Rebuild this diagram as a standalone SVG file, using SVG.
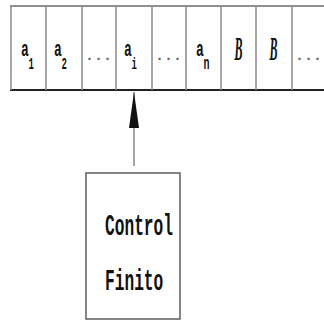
<svg xmlns="http://www.w3.org/2000/svg" width="324" height="320" viewBox="0 0 324 320">
<defs>
<style>
.cell{stroke:#8a8a8a;stroke-width:1.5}
.top{stroke:#6a6a6a;stroke-width:1.5}
.bot{stroke:#222;stroke-width:2.2}
.sym{font-family:"Liberation Mono",monospace;font-weight:bold;fill:#111}
.B{font-family:"Liberation Serif",serif;font-weight:bold;font-style:italic;fill:#111;font-size:12px}
.dots{font-family:"Liberation Mono",monospace;font-weight:bold;fill:#666;font-size:15px}
.lbl{font-family:"Liberation Mono",monospace;font-size:16.2px;font-weight:bold;fill:#111}
.box{fill:#fff;stroke:#666;stroke-width:1.6}
.conn{stroke:#888;stroke-width:1.5;fill:none}
</style>
<marker id="ah" viewBox="0 0 36 10" refX="36" refY="5" markerWidth="36" markerHeight="10" markerUnits="userSpaceOnUse" orient="auto">
<path d="M0,0 L36,5 L0,10 z" fill="#111"/>
</marker>
</defs>
<rect width="324" height="320" fill="#fff"/>
<g id="tape">
<line class="top" x1="10" y1="6" x2="324" y2="6"/>
<line class="bot" x1="10" y1="90" x2="324" y2="90"/>
<line class="cell" x1="11" y1="6" x2="11" y2="90"/>
<line class="cell" x1="46" y1="6" x2="46" y2="90"/>
<line class="cell" x1="82" y1="6" x2="82" y2="90"/>
<line class="cell" x1="116" y1="6" x2="116" y2="90"/>
<line class="cell" x1="152" y1="6" x2="152" y2="90"/>
<line class="cell" x1="186" y1="6" x2="186" y2="90"/>
<line class="cell" x1="221" y1="6" x2="221" y2="90"/>
<line class="cell" x1="256" y1="6" x2="256" y2="90"/>
<line class="cell" x1="292" y1="6" x2="292" y2="90"/>
<text class="sym" font-size="13" transform="translate(21,56) scale(1,1.75)">a</text>
<text class="sym" font-size="9" transform="translate(28.5,69) scale(1,1.8)">1</text>
<text class="sym" font-size="13" transform="translate(54,56) scale(1,1.75)">a</text>
<text class="sym" font-size="9" transform="translate(61.5,69) scale(1,1.8)">2</text>
<text class="dots" transform="translate(85,60)">...</text>
<text class="sym" font-size="13" transform="translate(124,56) scale(1,1.75)">a</text>
<text class="sym" font-size="9" transform="translate(131.5,69) scale(1,1.8)">i</text>
<text class="dots" transform="translate(155,60)">...</text>
<text class="sym" font-size="13" transform="translate(196,56) scale(1,1.75)">a</text>
<text class="sym" font-size="10" transform="translate(203.5,69) scale(1,1.8)">n</text>
<text class="B" transform="translate(234.5,60) scale(1,2.8)">B</text>
<text class="B" transform="translate(269.5,60) scale(1,2.8)">B</text>
<text class="dots" transform="translate(295,60)">...</text>
</g>
<g id="connectors">
<line class="conn" x1="134" y1="166" x2="134" y2="92" marker-end="url(#ah)"/>
</g>
<g id="control">
<rect class="box" x="86" y="173" width="94" height="146"/>
<text class="lbl" transform="translate(105,235) scale(1,1.85)">Control</text>
<text class="lbl" transform="translate(105,290) scale(1,1.85)">Finito</text>
</g>
</svg>
